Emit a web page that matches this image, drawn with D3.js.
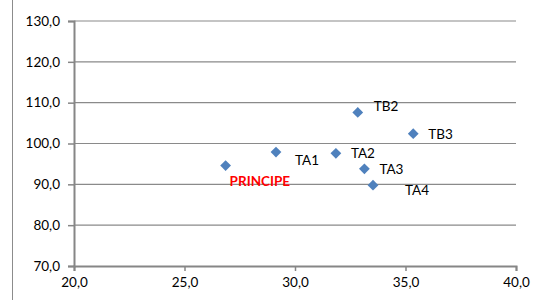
<!DOCTYPE html>
<html lang="en">
<head>
    <meta charset="UTF-8">
    <title>Scatter</title>
    <script src="https://d3js.org/d3.v7.min.js"></script>
    <style>
        body, html {
            margin: 0;
            padding: 0;
            background-color: #fff;
        }
        svg {
            display: block;
            font-family: 'Lato', 'Open Sans', sans-serif;
        }
    </style>
</head>
<body>
    <svg width="544" height="300"></svg>

    <script>
        // data
        const names = ['PRINCIPE', 'TA1', 'TA2', 'TA3', 'TA4', 'TB2', 'TB3'];
        const xValues = [26.86, 29.14, 31.85, 33.14, 33.53, 32.84, 35.35];
        const yValues = [94.6, 97.9, 97.6, 93.8, 89.8, 107.6, 102.4];
        const xTicks = [20, 25, 30, 35, 40];
        const yTicks = [70, 80, 90, 100, 110, 120, 130];

        const data = names.map((n, i) => ({ name: n, x: xValues[i], y: yValues[i] }));

        // label offsets (px) relative to the marker
        const labelOffset = {
            PRINCIPE: [4, 16], TA1: [19, 8], TA2: [15, 0], TA3: [15, 0],
            TA4: [32, 5], TB2: [16, -6], TB3: [15, 1]
        };

        const svg = d3.select('svg');
        const fmt = d => d.toFixed(1).replace('.', ',');

        const x = d3.scaleLinear().domain([20, 40]).range([74, 516]);
        const y = d3.scaleLinear().domain([70, 130]).range([266, 21]);

        // outer border on the left
        svg.append('line')
            .attr('x1', 12.5).attr('x2', 12.5)
            .attr('y1', 0).attr('y2', 300)
            .attr('stroke', '#8c8c8c').attr('stroke-width', 1);

        // gridlines
        svg.append('g')
            .selectAll('line')
            .data(yTicks.filter(t => t !== 70))
            .join('line')
            .attr('x1', x(20)).attr('x2', x(40))
            .attr('y1', d => y(d)).attr('y2', d => y(d))
            .attr('stroke', '#8a8a8a').attr('stroke-width', 1.2);

        const yAxis = svg.append('g')
            .attr('transform', `translate(${x(20)},0)`)
            .call(d3.axisLeft(y).tickValues(yTicks).tickFormat(fmt).tickSize(6).tickPadding(8));

        const xAxis = svg.append('g')
            .attr('transform', `translate(0,${y(70)})`)
            .call(d3.axisBottom(x).tickValues(xTicks).tickFormat(fmt).tickSize(5).tickPadding(6));

        [xAxis, yAxis].forEach(a => {
            a.select('.domain').attr('stroke', '#868686').attr('stroke-width', 2);
            a.selectAll('.tick line').attr('stroke', '#868686').attr('stroke-width', 1.5);
            a.selectAll('text')
                .attr('fill', '#000')
                .style('font-size', '13.5px')
                .style('font-family', "'Lato', 'Open Sans', sans-serif");
        });

        // markers
        const diamond = d3.symbol().type(d3.symbolDiamond2).size(74);
        svg.append('g')
            .selectAll('path')
            .data(data)
            .join('path')
            .attr('d', diamond)
            .attr('transform', d => `translate(${x(d.x)},${y(d.y)})`)
            .attr('fill', '#4f81bd');

        // labels
        svg.append('g')
            .selectAll('text')
            .data(data)
            .join('text')
            .attr('x', d => x(d.x) + labelOffset[d.name][0])
            .attr('y', d => y(d.y) + labelOffset[d.name][1])
            .attr('dy', '0.35em')
            .attr('font-size', 13.5)
            .attr('font-weight', d => d.name === 'PRINCIPE' ? 'bold' : 'normal')
            .attr('fill', d => d.name === 'PRINCIPE' ? '#ff0000' : '#000')
            .text(d => d.name);
    </script>
</body>
</html>
